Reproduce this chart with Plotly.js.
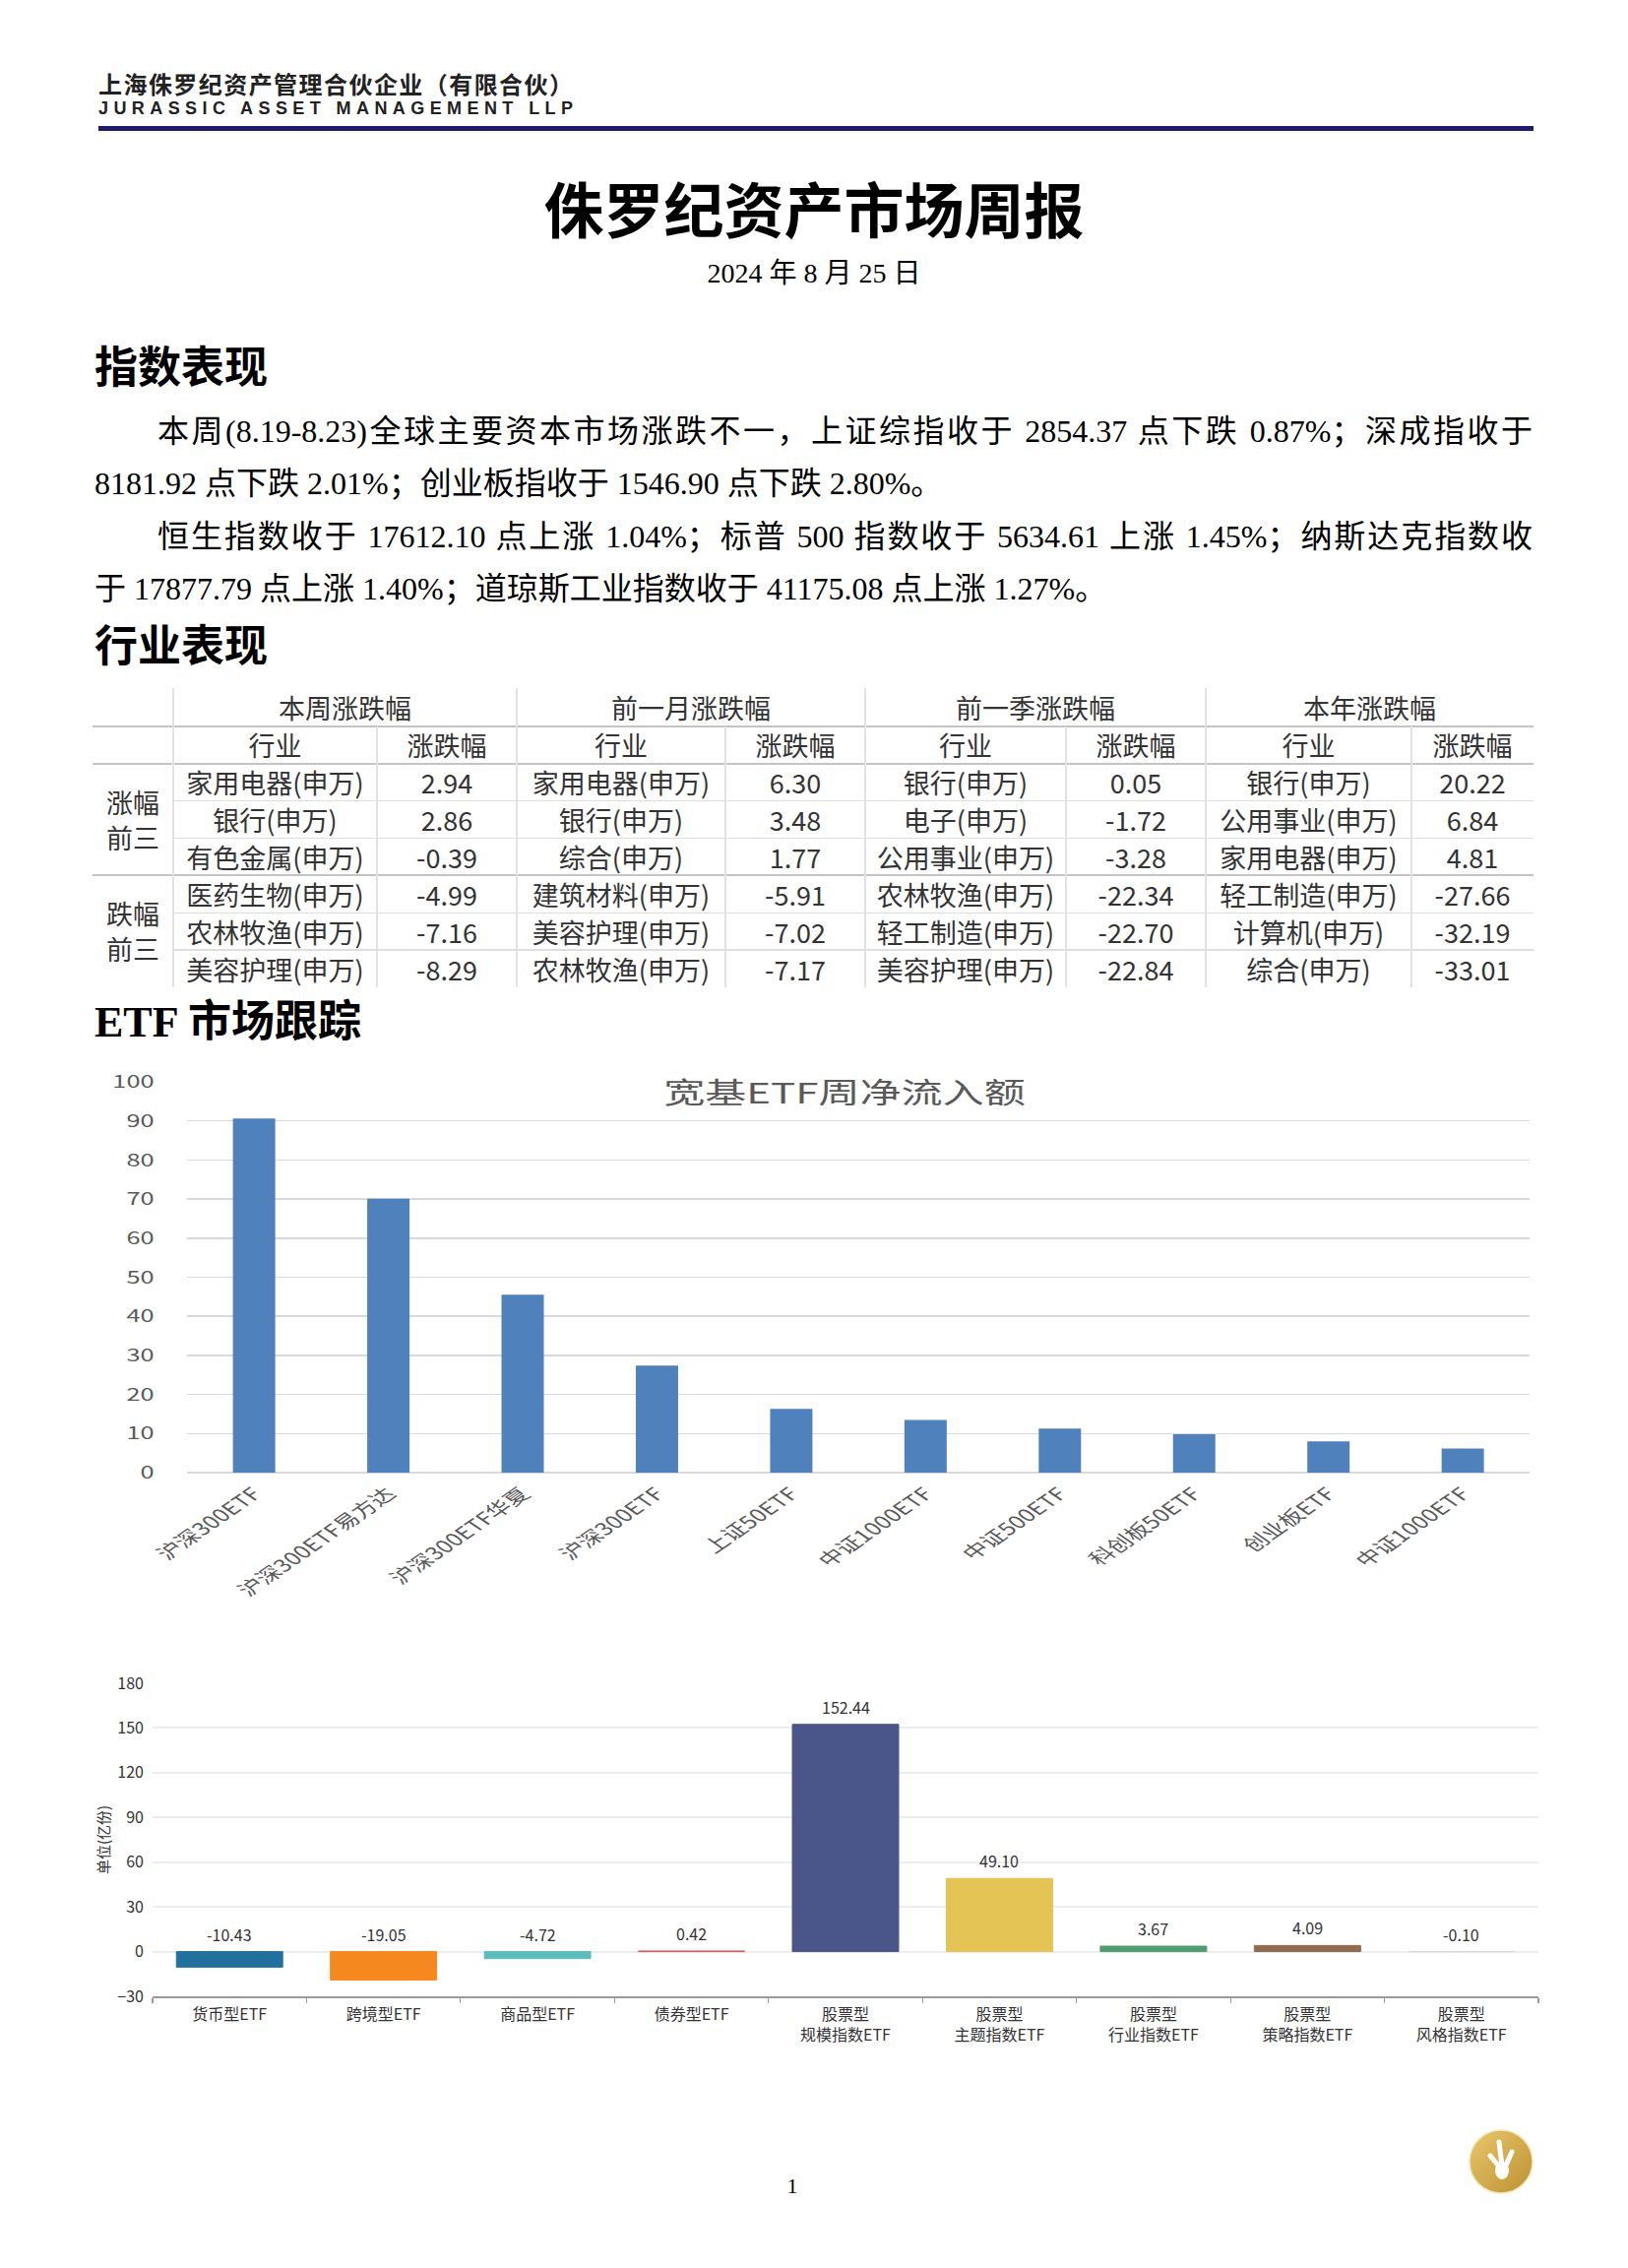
<!DOCTYPE html>
<html><head><meta charset="utf-8">
<script src="https://cdn.plot.ly/plotly-3.0.1.min.js"></script>
<style>
html,body{margin:0;padding:0;background:#fff;}
body{width:1654px;height:2304px;position:relative;overflow:hidden;font-family:"Liberation Serif","Noto Sans CJK SC",serif;color:#000;}
.abs{position:absolute;}
#hdrcn{left:100px;top:72px;font-family:"Noto Sans CJK SC";font-weight:700;font-size:24px;line-height:26px;white-space:nowrap;color:#222;}
#hdren{left:100px;top:100px;font-family:"Liberation Sans","DejaVu Sans",sans-serif;font-weight:700;font-size:18px;line-height:20px;white-space:nowrap;color:#222;}
#rule{left:100px;top:128px;width:1458px;height:5px;background:#1f1b6e;}
#title{left:0;width:1654px;top:178px;text-align:center;font-family:"Noto Sans CJK SC";font-weight:700;font-size:61px;line-height:66px;}
#date{left:0;width:1654px;top:262px;text-align:center;font-size:28px;line-height:32px;}
.h2{left:96px;font-family:"Liberation Serif","Noto Sans CJK SC",serif;font-weight:700;font-size:44px;line-height:50px;white-space:nowrap;}
.para{font-size:32px;line-height:40px;}
.just{text-align:justify;text-align-last:justify;}
.cell{position:absolute;display:flex;align-items:center;justify-content:center;font-family:"Noto Sans CJK SC",sans-serif;font-size:27px;color:#333;white-space:nowrap;}
.hl{position:absolute;}
#pnum{left:790px;width:30px;top:2207px;text-align:center;font-size:22px;line-height:28px;}
</style>
</head>
<body>
<div id="hdrcn" class="abs">上海侏罗纪资产管理合伙企业（有限合伙）</div>
<div id="hdren" class="abs">JURASSIC ASSET MANAGEMENT LLP</div>
<div id="rule" class="abs"></div>
<div id="title" class="abs">侏罗纪资产市场周报</div>
<div id="date" class="abs">2024 年 8 月 25 日</div>

<div class="abs h2" style="top:350px">指数表现</div>
<div class="abs para just" style="left:160px;width:1397px;top:418px">本周(8.19-8.23)全球主要资本市场涨跌不一，上证综指收于 2854.37 点下跌 0.87%；深成指收于</div>
<div class="abs para" style="left:96px;top:471px;white-space:nowrap">8181.92 点下跌 2.01%；创业板指收于 1546.90 点下跌 2.80%。</div>
<div class="abs para just" style="left:160px;width:1397px;top:525px">恒生指数收于 17612.10 点上涨 1.04%；标普 500 指数收于 5634.61 上涨 1.45%；纳斯达克指数收</div>
<div class="abs para" style="left:96px;top:578px;white-space:nowrap">于 17877.79 点上涨 1.40%；道琼斯工业指数收于 41175.08 点上涨 1.27%。</div>

<div class="abs h2" style="top:633px">行业表现</div>
<div id="table" class="abs" style="left:0;top:0;"></div>

<div class="abs h2" style="top:1014px">ETF 市场跟踪</div>

<div class="abs" style="left:100px;top:1060px;width:1024px;height:640px;transform:scaleX(1.45);transform-origin:0 0;">
  <div id="chart1" style="width:1024px;height:640px;"></div>
</div>
<div id="chart2" class="abs" style="left:0;top:1680px;width:1654px;height:440px;"></div>

<div id="pnum" class="abs">1</div>
<svg class="abs" style="left:1491px;top:2162px" width="68" height="68" viewBox="0 0 68 68">
  <defs><linearGradient id="gold" x1="0" y1="0" x2="1" y2="1">
    <stop offset="0" stop-color="#e8c86c"/><stop offset="1" stop-color="#bd9132"/></linearGradient></defs>
  <circle cx="34" cy="34" r="32" fill="url(#gold)" stroke="#f4e6b8" stroke-width="1.5"/>
  <ellipse cx="35" cy="43" rx="7" ry="9" fill="#fff"/>
  <line x1="33" y1="40" x2="23" y2="28" stroke="#fff" stroke-width="5" stroke-linecap="round"/>
  <line x1="35" y1="38" x2="32" y2="14" stroke="#fff" stroke-width="5" stroke-linecap="round"/>
  <line x1="38" y1="40" x2="45" y2="24" stroke="#fff" stroke-width="5" stroke-linecap="round"/>
</svg>

<script>
// ---------- 行业表现 table data ----------
const periodNames = ['本周涨跌幅', '前一月涨跌幅', '前一季涨跌幅', '本年涨跌幅'];
const weekIndustry = ['家用电器(申万)','银行(申万)','有色金属(申万)','医药生物(申万)','农林牧渔(申万)','美容护理(申万)'];
const weekChange = [2.94, 2.86, -0.39, -4.99, -7.16, -8.29];
const monthIndustry = ['家用电器(申万)','银行(申万)','综合(申万)','建筑材料(申万)','美容护理(申万)','农林牧渔(申万)'];
const monthChange = [6.30, 3.48, 1.77, -5.91, -7.02, -7.17];
const quarterIndustry = ['银行(申万)','电子(申万)','公用事业(申万)','农林牧渔(申万)','轻工制造(申万)','美容护理(申万)'];
const quarterChange = [0.05, -1.72, -3.28, -22.34, -22.70, -22.84];
const yearIndustry = ['银行(申万)','公用事业(申万)','家用电器(申万)','轻工制造(申万)','计算机(申万)','综合(申万)'];
const yearChange = [20.22, 6.84, 4.81, -27.66, -32.19, -33.01];
const groupLabels = ['涨幅<br>前三', '跌幅<br>前三'];
const subHeaders = ['行业', '涨跌幅'];

// ---------- ETF chart 1 data ----------
const etfNames = ['沪深300ETF','沪深300ETF易方达','沪深300ETF华夏','沪深300ETF','上证50ETF','中证1000ETF','中证500ETF','科创板50ETF','创业板ETF','中证1000ETF'];
const etfInflow = [90.6, 70.1, 45.5, 27.4, 16.3, 13.5, 11.3, 9.8, 8.0, 6.2];
const chart1Title = '宽基ETF周净流入额';

// ---------- ETF chart 2 data ----------
const typeNames = ['货币型ETF','跨境型ETF','商品型ETF','债券型ETF','股票型<br>规模指数ETF','股票型<br>主题指数ETF','股票型<br>行业指数ETF','股票型<br>策略指数ETF','股票型<br>风格指数ETF'];
const typeValues = [-10.43, -19.05, -4.72, 0.42, 152.44, 49.10, 3.67, 4.09, -0.10];
const typeColors = ['#22709e','#f5891f','#5fbcbc','#e8505b','#4a568a','#e4c455','#4f9c70','#8c6b50','#d9d9d9'];
const chart2YTitle = '单位(亿份)';

// ---------- build table ----------
(function(){
  const tbl = document.getElementById('table');
  const colW = [82, 207, 142, 212, 142, 204, 142, 209, 124];
  const x0 = 94, y0 = 699;
  const rowH = [38.7, 38].concat([37.9,37.9,37.9,37.9,37.9,37.9]);
  const xs = [x0]; colW.forEach(w => xs.push(xs[xs.length-1] + w));
  const ys = [y0]; rowH.forEach(h => ys.push(ys[ys.length-1] + h));
  const right = xs[xs.length-1], bottom = ys[ys.length-1];
  function cell(x, y, w, h, html, extra){
    const d = document.createElement('div'); d.className = 'cell';
    d.style.left = x + 'px'; d.style.top = y + 'px'; d.style.width = w + 'px'; d.style.height = h + 'px';
    d.innerHTML = html; if (extra) Object.assign(d.style, extra); tbl.appendChild(d);
  }
  function line(x, y, w, h, c){
    const d = document.createElement('div'); d.className = 'hl';
    d.style.left = x + 'px'; d.style.top = y + 'px'; d.style.width = w + 'px'; d.style.height = h + 'px'; d.style.background = c;
    tbl.appendChild(d);
  }
  const inds = [weekIndustry, monthIndustry, quarterIndustry, yearIndustry];
  const chgs = [weekChange, monthChange, quarterChange, yearChange];
  periodNames.forEach((p, g) => {
    const c = 1 + 2*g;
    cell(xs[c], ys[0], xs[c+2]-xs[c], rowH[0], p);
    cell(xs[c], ys[1], colW[c], rowH[1], subHeaders[0]);
    cell(xs[c+1], ys[1], colW[c+1], rowH[1], subHeaders[1]);
    inds[g].forEach((name, i) => {
      cell(xs[c], ys[2+i], colW[c], rowH[2+i], name);
      cell(xs[c+1], ys[2+i], colW[c+1], rowH[2+i], chgs[g][i].toFixed(2));
    });
  });
  groupLabels.forEach((lab, k) => {
    cell(xs[0], ys[2+3*k], colW[0], ys[5+3*k]-ys[2+3*k], lab, {lineHeight:'36px', textAlign:'center'});
  });
  [ys[1], ys[2], ys[5]].forEach(y => line(x0, y-1, right-x0, 2, '#c4c4c4'));
  [ys[3], ys[4], ys[6], ys[7]].forEach(y => line(xs[1], y-0.75, right-xs[1], 1.5, '#dedede'));
  [1,3,5,7].forEach(c => line(xs[c]-0.75, y0, 1.5, bottom-y0, '#e2e2e2'));
  [2,4,6,8].forEach(c => line(xs[c]-0.75, ys[1], 1.5, bottom-ys[1], '#e2e2e2'));
})();

// ---------- chart 1 ----------
const idx1 = etfNames.map((_, i) => i);
Plotly.newPlot('chart1', [{
  type: 'bar', x: idx1, y: etfInflow,
  marker: {color: '#4f81bd'}, hoverinfo: 'skip'
}], {
  width: 1024, height: 640,
  margin: {l: 62.07, r: 20.5, t: 38.5, b: 204},
  paper_bgcolor: 'rgba(0,0,0,0)', plot_bgcolor: 'rgba(0,0,0,0)',
  bargap: 0.685,
  showlegend: false,
  title: {text: chart1Title, font: {family: 'Noto Sans CJK SC, sans-serif', size: 29, color: '#595959'},
          xref: 'container', x: 0.5105, xanchor: 'center', yref: 'container', y: 0.92, yanchor: 'middle'},
  xaxis: {type: 'linear', range: [-0.5, 9.5], tickvals: idx1, ticktext: etfNames, tickangle: -45,
          showgrid: false, zeroline: false, showline: false, ticks: '',
          tickfont: {family: 'Noto Sans CJK SC, sans-serif', size: 17.5, color: '#595959'}, ticklabelstandoff: 7},
  yaxis: {range: [0, 100], dtick: 10, tick0: 0, showgrid: true, gridcolor: '#d9d9d9', gridwidth: 1.5,
          zeroline: true, zerolinecolor: '#d9d9d9', zerolinewidth: 1.5, showline: false, ticks: '',
          tickfont: {family: 'Noto Sans CJK SC, sans-serif', size: 17.5, color: '#595959'}, ticklabelstandoff: 22}
}, {staticPlot: true, displayModeBar: false});

// ---------- chart 2 ----------
Plotly.newPlot('chart2', [{
  type: 'bar', x: typeNames, y: typeValues,
  marker: {color: typeColors, line: {color: typeColors, width: 1}}, hoverinfo: 'skip'
}], {
  width: 1654, height: 440,
  margin: {l: 155, r: 91, t: 29.5, b: 92},
  paper_bgcolor: 'rgba(0,0,0,0)', plot_bgcolor: 'rgba(0,0,0,0)',
  bargap: 0.31, showlegend: false,
  xaxis: {type: 'category', showgrid: false, zeroline: false, showline: true, linecolor: '#9a9a9a', linewidth: 1.5,
          ticks: 'outside', tickson: 'boundaries', ticklen: 5, tickcolor: '#9a9a9a', tickwidth: 1.2, tickangle: 0,
          tickfont: {family: 'Noto Sans CJK SC, sans-serif', size: 16, color: '#333'}, ticklabelstandoff: 3},
  yaxis: {range: [-30, 180], dtick: 30, tick0: 0, showgrid: true, gridcolor: '#ededed', gridwidth: 2,
          zeroline: true, zerolinecolor: '#ededed', zerolinewidth: 2, showline: false, ticks: '',
          tickfont: {family: 'Noto Sans CJK SC, sans-serif', size: 16, color: '#333'}, ticklabelstandoff: 8,
          title: {text: chart2YTitle, font: {family: 'Noto Sans CJK SC, sans-serif', size: 15, color: '#333'}, standoff: 4}},
  annotations: typeNames.map((n, i) => ({
    x: n, y: Math.max(typeValues[i], 0), xref: 'x', yref: 'y', text: typeValues[i].toFixed(2),
    showarrow: false, yanchor: 'bottom', yshift: 4,
    font: {family: 'Noto Sans CJK SC, sans-serif', size: 16, color: '#333'}
  }))
}, {staticPlot: true, displayModeBar: false});

// ---------- fit letterhead widths ----------
function fitWidth(id, target){
  const el = document.getElementById(id);
  const n = [...el.textContent].length;
  el.style.letterSpacing = '0px';
  const w = el.getBoundingClientRect().width;
  el.style.letterSpacing = ((target - w) / (n - 1)) + 'px';
}
fitWidth('hdrcn', 482);
fitWidth('hdren', 482);
if (document.fonts && document.fonts.ready) document.fonts.ready.then(() => { fitWidth('hdrcn', 482); fitWidth('hdren', 482); });
</script>
</body></html>
